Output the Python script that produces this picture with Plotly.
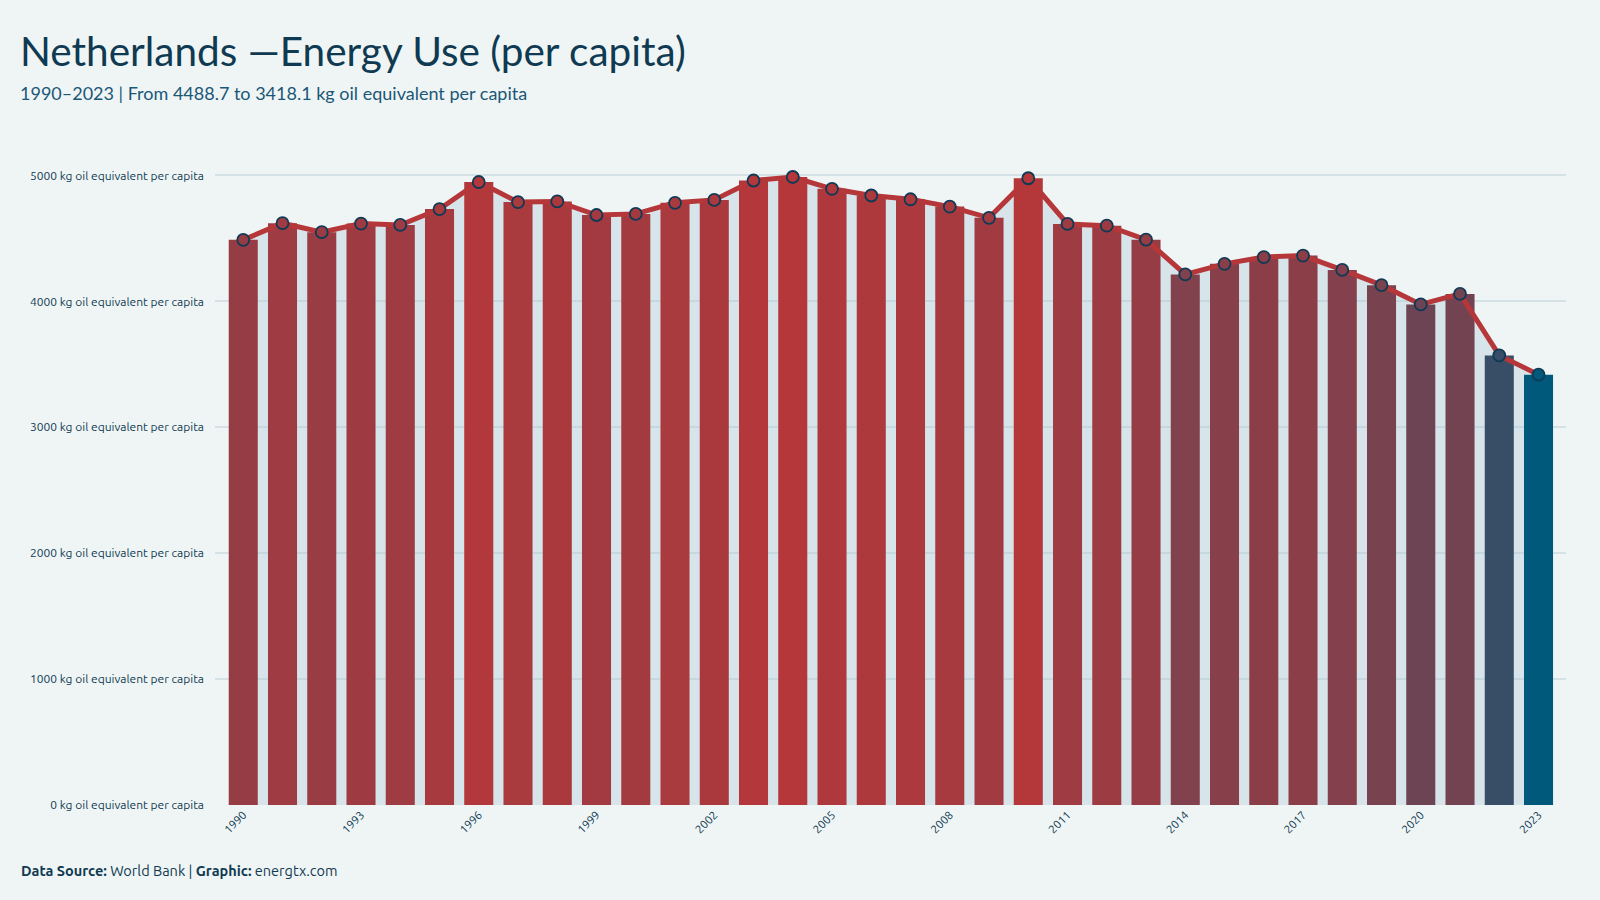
import plotly.graph_objects as go

years = list(range(1990, 2024))
values = [4488.7, 4621, 4550, 4618, 4607, 4733, 4948, 4789, 4794, 4686,
          4695, 4783, 4806, 4960, 4988, 4894, 4841, 4811, 4753, 4664,
          4978, 4615, 4601, 4490, 4214, 4298, 4352, 4364, 4250, 4129,
          3976, 4059, 3571, 3418.1]
tick_years = list(range(1990, 2024, 3))
y_ticks = [0, 1000, 2000, 3000, 4000, 5000]
unit = "kg oil equivalent per capita"

BLUE = (0, 88, 122)
RED = (181, 55, 58)

def mix(t):
    s = t ** 0.5
    c = [round(BLUE[i] + (RED[i] - BLUE[i]) * s) for i in range(3)]
    return "rgb(%d,%d,%d)" % tuple(c)

stops = [i / 20 for i in range(21)]
cscale = [[t, mix(t)] for t in stops]

W, H = 1600, 900
L, R, T, B = 215, 34, 144, 95
PW, PH = W - L - R, H - T - B

def px_x(x):
    return (x - L) / PW

def px_y(y):
    return (H - B - y) / PH

BG = "#eff5f5"
NAVY = "#0f3a52"
FONT = "Ubuntu, 'Noto Sans', sans-serif"
TFONT = "'Ubuntu Condensed', Lato, sans-serif"
XR = [1989.28, 2023.7]
YR = [0, 5250]

fig = go.Figure()
# area under the line (base axes, drawn beneath)
fig.add_trace(go.Scatter(
    x=years, y=values, mode="lines", line=dict(width=0, color="rgba(0,0,0,0)"),
    fill="tozeroy", fillcolor="rgba(173,198,212,0.35)", hoverinfo="skip",
    showlegend=False, xaxis="x", yaxis="y"))
# bars and line on overlay axes (drawn above)
fig.add_trace(go.Bar(
    x=years, y=values, width=0.74,
    marker=dict(color=values, colorscale=cscale, cmin=min(values), cmax=max(values),
                line=dict(width=0)),
    showlegend=False, xaxis="x2", yaxis="y2"))
fig.add_trace(go.Scatter(
    x=years, y=values, mode="lines+markers",
    line=dict(color="#b5373a", width=5),
    marker=dict(size=12, color=values, colorscale=cscale, cmin=min(values), cmax=max(values),
                line=dict(color="#0f3a55", width=1.8)),
    showlegend=False, xaxis="x2", yaxis="y2"))

fig.update_layout(
    width=W, height=H,
    margin=dict(l=L, r=R, t=T, b=B, pad=0),
    paper_bgcolor=BG, plot_bgcolor=BG,
    font=dict(family=FONT, color=NAVY, size=11),
    xaxis=dict(range=XR, tickmode="array", tickvals=tick_years,
               ticktext=[str(y) for y in tick_years], tickangle=-45,
               showgrid=False, zeroline=False, showline=False, ticks="",
               tickfont=dict(size=11.5, color=NAVY)),
    yaxis=dict(range=YR, tickmode="array", tickvals=y_ticks,
               ticktext=["%d %s" % (v, unit) for v in y_ticks],
               showgrid=True, gridcolor="#d5e2e5", gridwidth=1.5,
               zeroline=False, showline=False, ticks="", ticklabelstandoff=10,
               tickfont=dict(size=12, color=NAVY)),
    xaxis2=dict(range=XR, overlaying="x", visible=False, showgrid=False),
    yaxis2=dict(range=YR, overlaying="y", visible=False, showgrid=False),
    bargap=0.26,
    annotations=[
        dict(text="Netherlands —Energy Use (per capita)", xref="paper", yref="paper",
             x=px_x(18), y=px_y(51), xanchor="left", yanchor="middle", showarrow=False,
             font=dict(family=TFONT, size=40.5, color="#0f3a52")),
        dict(text="1990–2023 | From 4488.7 to 3418.1 kg oil equivalent per capita",
             xref="paper", yref="paper", x=px_x(18), y=px_y(93), xanchor="left",
             yanchor="middle", showarrow=False,
             font=dict(family=TFONT, size=18, color="#1b5777")),
        dict(text="<b>Data Source:</b> World Bank | <b>Graphic:</b> energtx.com",
             xref="paper", yref="paper", x=px_x(19), y=px_y(870), xanchor="left",
             yanchor="middle", showarrow=False,
             font=dict(family=FONT, size=14.5, color=NAVY)),
    ],
)

fig.write_html("out.html")
